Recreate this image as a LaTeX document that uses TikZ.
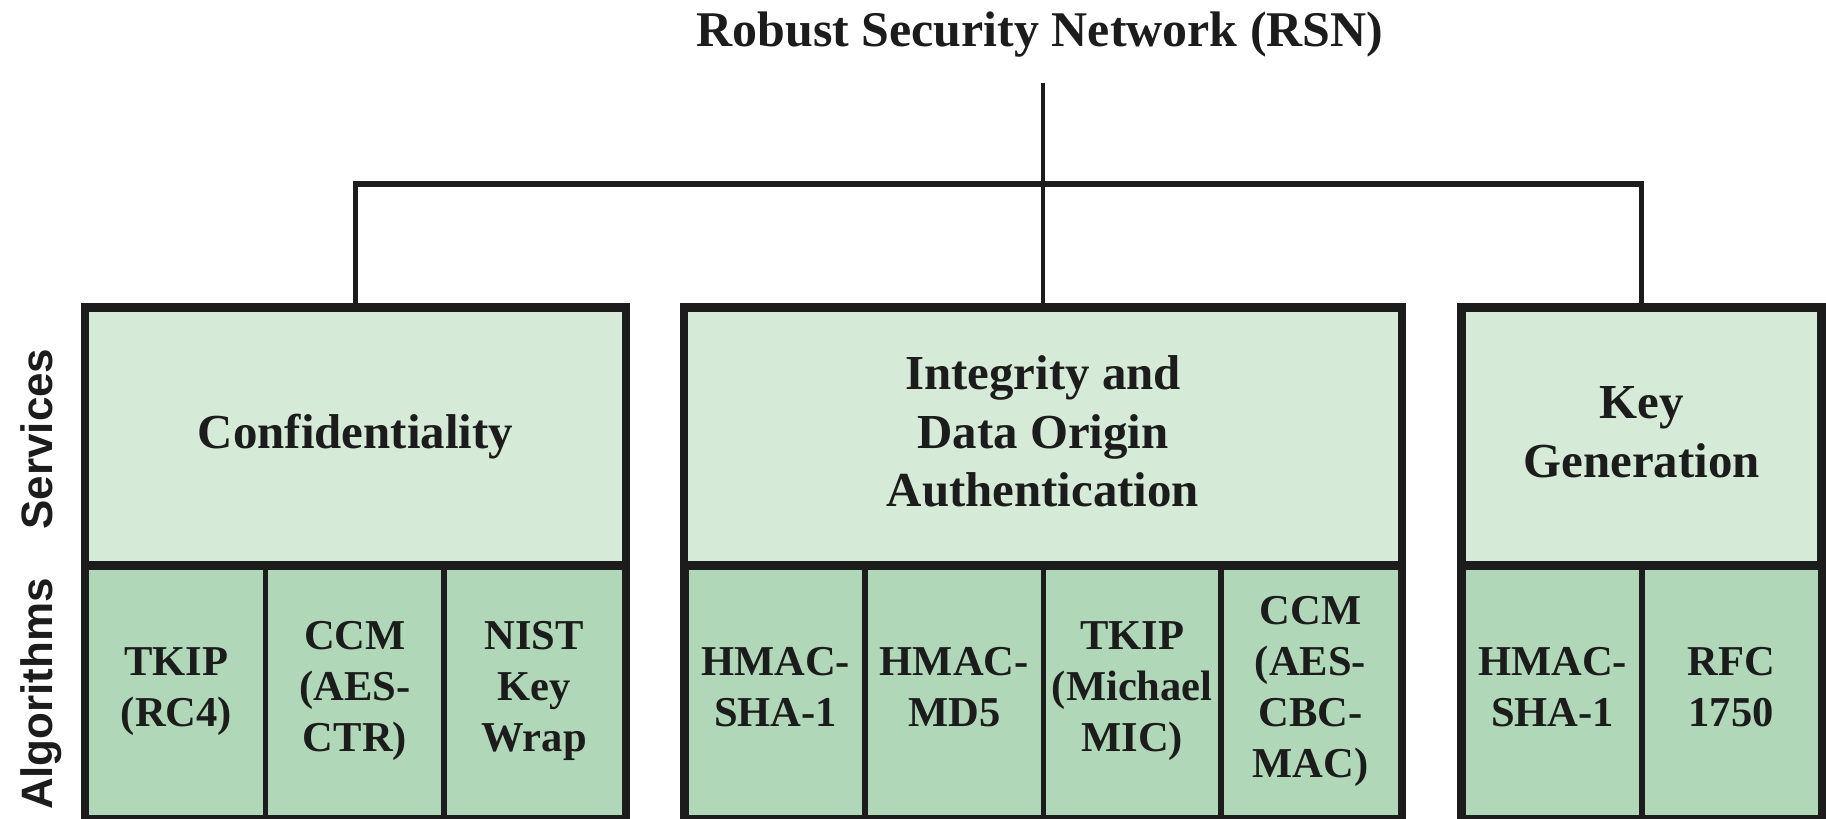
\documentclass[tikz,border=0pt]{standalone}
\usepackage{fontspec}
\setmainfont{Liberation Serif}
\setsansfont{Liberation Sans}
\definecolor{svcfill}{HTML}{D5EAD7}
\definecolor{algfill}{HTML}{B0D7B7}
\definecolor{ink}{HTML}{1C1C1C}
\newcommand{\cellstack}[2]{\raisebox{#1}{\begin{tabular}{@{}c@{}}#2\end{tabular}}}
\tikzset{
  svc/.style={draw=ink, fill=svcfill, line width=1.5pt, inner sep=0pt,
    font=\fontsize{13.9pt}{16.6pt}\selectfont\bfseries, text=ink},
  alg/.style={draw=ink, fill=algfill, line width=1.45pt, inner sep=0pt,
    minimum height=2.53cm, font=\fontsize{12.1pt}{14.5pt}\selectfont\bfseries, text=ink},
  outerbox/.style={draw=ink, line width=1.7pt},
  hconn/.style={draw=ink, line width=1.7pt},
  vconn/.style={draw=ink, line width=1.25pt},
  sidelabel/.style={rotate=90, anchor=base, inner sep=0pt,
    font=\fontsize{12.5pt}{14pt}\selectfont\sffamily\bfseries, text=ink},
}
\begin{document}
\begin{tikzpicture}[x=0.01cm, y=-0.01cm]
\useasboundingbox (0,0) rectangle (1826,819);

% title
\node[inner sep=0pt, anchor=base, font=\fontsize{14.2pt}{17pt}\selectfont\bfseries, text=ink] (title) at (1040,47) {Robust Security Network (RSN)};

% side labels
\node[sidelabel] (lsvc) at (52,439) {Services};
\node[sidelabel] (lalg) at (52,694) {Algorithms};

% services
\node[svc, minimum width=5.37cm, minimum height=2.55cm] (conf) at (355.5,436.5) {\cellstack{2pt}{Confidentiality}};
\node[svc, minimum width=7.14cm, minimum height=2.55cm] (integ) at (1043,436.5) {\cellstack{0pt}{Integrity and\\Data Origin\\Authentication}};
\node[svc, minimum width=3.57cm, minimum height=2.55cm] (keygen) at (1641.5,436.5) {\cellstack{2.7pt}{Key\\Generation}};

% algorithms: confidentiality
\node[alg, minimum width=1.79cm] (c1) at (176.5,690.5) {\cellstack{-2.8pt}{TKIP\\(RC4)}};
\node[alg, minimum width=1.78cm] (c2) at (355,690.5) {\cellstack{-2.8pt}{CCM\\(AES-\\CTR)}};
\node[alg, minimum width=1.80cm] (c3) at (534,690.5) {\cellstack{-2.8pt}{NIST\\Key\\Wrap}};

% algorithms: integrity
\node[alg, minimum width=1.79cm] (i1) at (775.5,690.5) {\cellstack{-2.8pt}{HMAC-\\SHA-1}};
\node[alg, minimum width=1.785cm] (i2) at (954.25,690.5) {\cellstack{-2.8pt}{HMAC-\\MD5}};
\node[alg, minimum width=1.775cm] (i3) at (1132.25,690.5) {\cellstack{-2.8pt}{TKIP\\(Michael\\MIC)}};
\node[alg, minimum width=1.79cm] (i4) at (1310.5,690.5) {\cellstack{-2.8pt}{CCM\\(AES-\\CBC-\\MAC)}};

% algorithms: key generation
\node[alg, minimum width=1.79cm] (k1) at (1552.5,690.5) {\cellstack{-2.8pt}{HMAC-\\SHA-1}};
\node[alg, minimum width=1.78cm] (k2) at (1731,690.5) {\cellstack{-2.8pt}{RFC\\1750}};

% outer frames
\draw[outerbox] (conf.north west) rectangle (c3.south east);
\draw[outerbox] (conf.south west) -- (conf.south east);
\draw[outerbox] (integ.north west) rectangle (i4.south east);
\draw[outerbox] (integ.south west) -- (integ.south east);
\draw[outerbox] (keygen.north west) rectangle (k2.south east);
\draw[outerbox] (keygen.south west) -- (keygen.south east);

% connectors
\coordinate (top) at (1043,83);
\coordinate (hub) at (1043,184);
\coordinate (hl) at (conf.north |- hub);
\coordinate (hr) at (keygen.north |- hub);
\draw[vconn] (top) -- (hub);
\draw[hconn] ([xshift=-0.6pt]hl) -- ([xshift=0.6pt]hr);
\draw[vconn] (hl) -- (conf.north);
\draw[vconn] (integ.north |- hub) -- (integ.north);
\draw[vconn] (hr) -- (keygen.north);
\end{tikzpicture}
\end{document}
